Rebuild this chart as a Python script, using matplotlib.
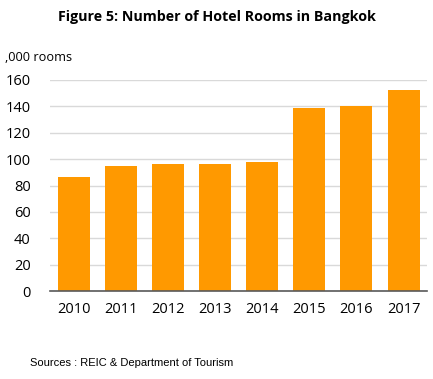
import matplotlib
matplotlib.use("Agg")
import matplotlib.pyplot as plt

years = ["2010", "2011", "2012", "2013", "2014", "2015", "2016", "2017"]
rooms = [86.5, 95, 96.5, 96.5, 97.5, 138.5, 140.5, 152.5]
yticks = [0, 20, 40, 60, 80, 100, 120, 140, 160]

plt.rcParams["font.family"] = ["Open Sans", "DejaVu Sans"]

fig = plt.figure(figsize=(4.33, 3.79), dpi=100)
ax = fig.add_axes([0.1155, 0.232, 0.871, 0.557])

ax.bar(years, rooms, width=0.68, color="#FF9900", zorder=2)
ax.set_ylim(0, 160)
ax.set_xlim(-0.5, len(years) - 0.5)
ax.set_yticks(yticks)
ax.grid(axis="y", color="#d9d9d9", linewidth=1, zorder=0)
for s in ["top", "right", "left"]:
    ax.spines[s].set_visible(False)
ax.spines["bottom"].set_color("#595959")
ax.spines["bottom"].set_linewidth(1.2)
ax.spines["bottom"].set_zorder(3)
ax.tick_params(axis="both", length=0, labelsize=10.5, colors="#000000")
ax.tick_params(axis="y", pad=14)
ax.tick_params(axis="x", pad=8)

fig.text(0.5, 0.955, "Figure 5: Number of Hotel Rooms in Bangkok",
         ha="center", va="center", fontsize=10.3, fontweight="bold")
fig.text(0.012, 0.848, ",000 rooms", ha="left", va="center", fontsize=9.2)
fig.text(0.069, 0.042, "Sources : REIC & Department of Tourism",
         ha="left", va="center", fontsize=8, family=["Liberation Sans Narrow", "Liberation Sans", "DejaVu Sans"])

fig.savefig("out.png", dpi=100)
